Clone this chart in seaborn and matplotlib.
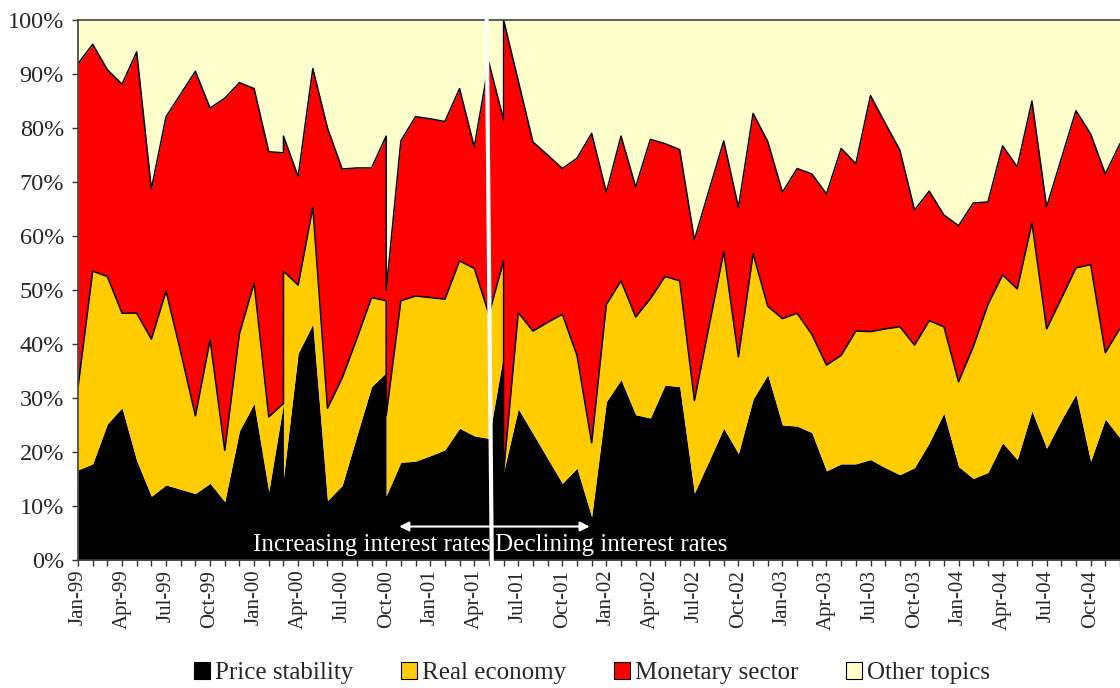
import numpy as np
import pandas as pd
import matplotlib
matplotlib.use("Agg")
import matplotlib.pyplot as plt
from matplotlib.patches import Patch
import seaborn as sns

# months (0 = Jan-99) that have two readings plotted on the same date
double_months = [14, 21, 29]

series_names = ["Price stability", "Real economy", "Monetary sector", "Other topics"]
series_colors = ["#000000", "#FFCC00", "#FF0000", "#FFFFCC"]

price_stability = [
    16.7, 17.8, 25.2, 28.2, 18.4, 11.8, 13.9, 13.1, 12.3, 14.2, 10.8, 23.9,
    29.0, 12.7, 29.0, 15.2, 38.3, 43.7, 11.0, 13.8, 23.0, 32.1, 34.7, 11.9, 18.1, 18.3,
    19.3, 20.4, 24.4, 23.0, 22.5, 38.2, 16.3, 28.0, 23.4, 18.8, 14.2, 17.0, 8.0,
    29.3, 33.4, 26.9, 26.3, 32.4, 32.1, 12.4, 18.4, 24.4, 19.7, 29.8, 34.3,
    25.0, 24.8, 23.6, 16.5, 17.8, 17.8, 18.6, 17.1, 15.8, 17.1, 21.7, 27.2,
    17.3, 15.1, 16.2, 21.7, 18.6, 27.6, 20.7, 25.9, 30.7, 18.3, 26.1, 22.6,
]
real_economy = [
    15.3, 35.7, 27.3, 17.5, 27.3, 29.1, 35.9, 25.4, 14.4, 26.6, 9.5, 18.0,
    22.3, 13.8, 0.0, 38.3, 12.6, 21.6, 17.1, 19.9, 18.0, 16.5, 13.3, 14.9, 29.9, 30.6,
    29.3, 27.9, 31.0, 31.0, 23.0, 17.2, 0.0, 17.8, 19.0, 25.2, 31.3, 20.9, 13.7,
    18.0, 18.3, 18.1, 22.1, 20.1, 19.6, 17.1, 24.9, 32.7, 17.9, 26.9, 12.7,
    19.7, 20.9, 18.2, 19.6, 20.1, 24.6, 23.7, 25.7, 27.4, 22.7, 22.6, 16.0,
    15.7, 24.4, 31.1, 31.1, 31.6, 34.8, 22.1, 22.5, 23.4, 36.4, 12.3, 20.3,
]
monetary_sector = [
    59.9, 42.0, 38.3, 42.4, 48.4, 27.8, 32.3, 47.8, 63.8, 42.9, 65.2, 46.5,
    36.0, 49.1, 46.4, 25.0, 20.1, 25.7, 51.9, 38.7, 31.6, 24.0, 30.5, 23.1, 29.6, 33.2,
    33.1, 32.9, 31.9, 22.5, 46.6, 26.1, 83.7, 42.9, 35.0, 31.0, 27.0, 36.5, 57.3,
    20.8, 26.8, 24.1, 29.5, 24.6, 24.3, 29.8, 25.2, 20.5, 27.7, 26.0, 30.5,
    23.4, 26.8, 29.7, 31.7, 38.3, 31.0, 43.7, 38.1, 32.7, 25.0, 24.0, 20.7,
    28.9, 26.6, 19.0, 23.9, 22.6, 22.6, 22.6, 25.9, 29.1, 24.2, 33.1, 34.2,
]
other_topics = [
    8.1, 4.5, 9.2, 11.9, 5.9, 31.3, 17.9, 13.7, 9.5, 16.3, 14.5, 11.6,
    12.7, 24.4, 24.6, 21.5, 29.0, 9.0, 20.0, 27.6, 27.4, 27.4, 21.5, 50.1, 22.4, 17.9,
    18.3, 18.8, 12.7, 23.5, 7.9, 18.5, 0.0, 11.3, 22.6, 25.0, 27.5, 25.6, 21.0,
    31.9, 21.5, 30.9, 22.1, 22.9, 24.0, 40.7, 31.5, 22.4, 34.7, 17.3, 22.5,
    31.9, 27.5, 28.5, 32.2, 23.8, 26.6, 14.0, 19.1, 24.1, 35.2, 31.7, 36.1,
    38.1, 33.9, 33.7, 23.3, 27.2, 15.0, 34.6, 25.7, 16.8, 21.1, 28.5, 22.9,
]

month_labels = pd.date_range("1999-01-01", periods=72, freq="MS").strftime("%b-%y")


def build_frame():
    """month position for every reading (doubles share the same position)"""
    pos = []
    for m in range(len(month_labels)):
        pos.extend([m, m] if m in double_months else [m])
    df = pd.DataFrame({
        "month": pos,
        "Price stability": price_stability,
        "Real economy": real_economy,
        "Monetary sector": monetary_sector,
        "Other topics": other_topics,
    })
    return df


def main():
    sns.set_style("ticks")
    plt.rcParams["font.family"] = ["Liberation Serif", "DejaVu Serif"]

    df = build_frame()
    values = df[series_names].to_numpy().T

    fig = plt.figure(figsize=(11.2, 6.88), dpi=100)
    ax = fig.add_axes([78 / 1120, 128 / 688, 1 - 78 / 1120, 540 / 688])

    # stacked areas
    ax.stackplot(df["month"], values, colors=series_colors, linewidth=0)

    # black outlines on top of yellow and red layers
    cum = np.cumsum(values, axis=0)
    for k in (1, 2):
        sns.lineplot(x=df["month"].to_numpy(), y=cum[k], estimator=None, sort=False,
                     color="black", linewidth=1.1, ax=ax)

    ax.set_xlim(0, (1120 - 78) / 14.75)
    ax.set_ylim(0, 100)

    ax.set_yticks(range(0, 101, 10))
    ax.set_yticklabels([f"{v}%" for v in range(0, 101, 10)], fontsize=17.5)
    ax.set_xticks(range(len(month_labels)))
    ax.set_xticklabels([lab if i % 3 == 0 else "" for i, lab in enumerate(month_labels)],
                       rotation=90, fontsize=15)
    ax.tick_params(axis="both", direction="out", length=4, width=1, color="#333333")
    ax.tick_params(axis="y", pad=6)
    ax.tick_params(axis="x", pad=3)
    ax.set_xlabel("")
    ax.set_ylabel("")

    for side in ("left", "top", "bottom"):
        ax.spines[side].set_color("#404040")
        ax.spines[side].set_linewidth(1.2)
    ax.spines["right"].set_visible(False)

    # regime divider
    ax.plot([27.85, 28.2], [100, -1.9], color="white", linewidth=3, clip_on=False, zorder=5)
    ax.annotate("", xy=(21.7, 6.2), xytext=(35.05, 6.2),
                arrowprops=dict(arrowstyle="<|-|>", color="white", lw=1.5, mutation_scale=14),
                zorder=6)
    ax.text(28.1, 2.7, "Increasing interest rates", color="white", fontsize=18,
            ha="right", va="center", zorder=6)
    ax.text(28.4, 2.7, "Declining interest rates", color="white", fontsize=18,
            ha="left", va="center", zorder=6)

    handles = [Patch(facecolor=c, edgecolor="black", linewidth=0.8) for c in series_colors]
    fig.legend(handles, series_names, loc="center", bbox_to_anchor=(592 / 1120, 15 / 688),
               ncol=4, frameon=False, fontsize=18, handlelength=0.65, handleheight=0.65,
               handletextpad=0.2, columnspacing=1.9, borderpad=0)

    fig.savefig("out.png", dpi=100)
    plt.close(fig)


if __name__ == "__main__":
    main()
